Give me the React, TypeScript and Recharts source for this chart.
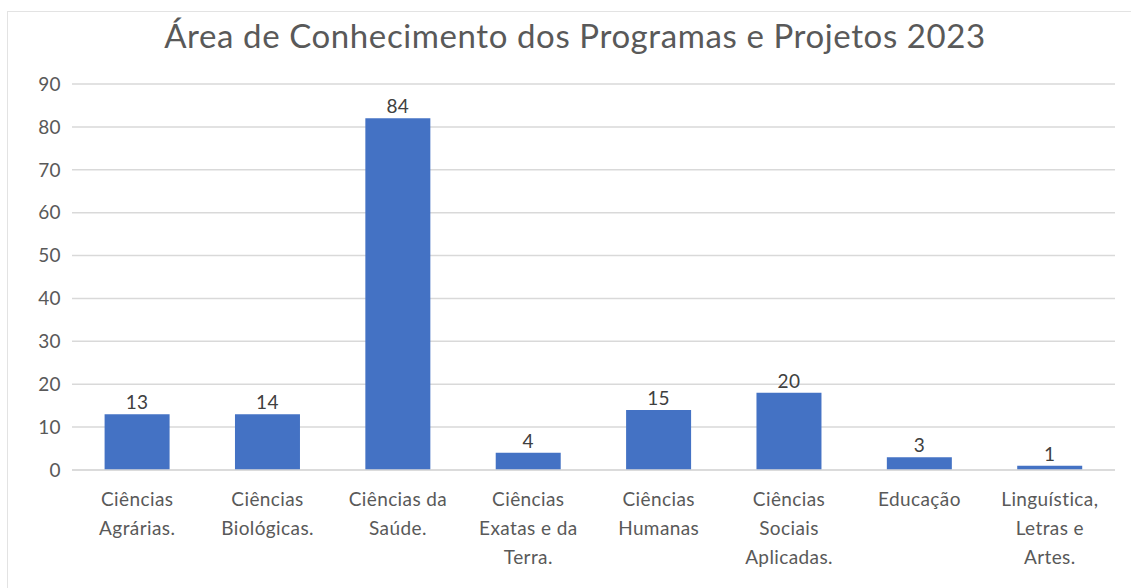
import { BarChart, Bar, XAxis, YAxis, CartesianGrid, LabelList } from 'recharts';

const categories = [
    'Ciências\nAgrárias.',
    'Ciências\nBiológicas.',
    'Ciências da\nSaúde.',
    'Ciências\nExatas e da\nTerra.',
    'Ciências\nHumanas',
    'Ciências\nSociais\nAplicadas.',
    'Educação',
    'Linguística,\nLetras e\nArtes.',
];
// bar heights as drawn
const barValues = [13, 13, 82, 4, 14, 18, 3, 1];
// data labels as printed above the bars
const barLabels = ['13', '14', '84', '4', '15', '20', '3', '1'];
const yTicks = [0, 10, 20, 30, 40, 50, 60, 70, 80, 90];

const FONT = 'Lato, "Open Sans", sans-serif';
const TEXT = '#595959';

const data = categories.map((name, i) => ({ name, value: barValues[i], label: barLabels[i] }));

const CategoryTick = ({ x, y, payload }: any) => {
    const lines = String(payload.value).split('\n');
    return (
        <text x={x} y={y} textAnchor="middle" fill={TEXT} fontSize={19} fontFamily={FONT} letterSpacing={0.4}>
            {lines.map((line, i) => (
                <tspan key={i} x={x} dy={i === 0 ? 28 : 29}>{line}</tspan>
            ))}
        </text>
    );
};

export default function App() {
    return (
        <div style={{ position: 'absolute', left: 0, top: 0, width: 1131, height: 588, background: '#fff', overflow: 'hidden' }}>
            <div style={{ position: 'absolute', left: 7, top: 11, width: 1130, height: 600, borderTop: '1px solid #e3e3e3', borderLeft: '1px solid #e3e3e3' }} />
            <div style={{
                position: 'absolute', left: 0, top: 13, width: 1150, textAlign: 'center',
                fontFamily: FONT, fontSize: 33, color: TEXT, lineHeight: '44px', letterSpacing: 0.6,
            }}>
                Área de Conhecimento dos Programas e Projetos 2023
            </div>
            <div style={{ position: 'absolute', left: 0, top: 0 }}>
                <BarChart width={1131} height={588} data={data} margin={{ top: 84, right: 16, bottom: 0, left: 0 }} barCategoryGap="25%">
                    <CartesianGrid vertical={false} stroke="#d9d9d9" strokeWidth={1.5} />
                    <XAxis
                        dataKey="name"
                        interval={0}
                        height={118}
                        tickLine={false}
                        axisLine={{ stroke: '#d9d9d9', strokeWidth: 1.5 }}
                        tick={<CategoryTick />}
                    />
                    <YAxis
                        width={72}
                        domain={[0, 90]}
                        ticks={yTicks}
                        axisLine={false}
                        tickLine={false}
                        tickMargin={5}
                        tick={{ fill: TEXT, fontSize: 19, fontFamily: FONT, letterSpacing: 0.4 }}
                    />
                    <Bar dataKey="value" fill="#4472C4" isAnimationActive={false}>
                        <LabelList dataKey="label" position="top" offset={5} fill="#404040" fontSize={19} fontFamily={FONT} letterSpacing={0.4} />
                    </Bar>
                </BarChart>
            </div>
        </div>
    );
}
